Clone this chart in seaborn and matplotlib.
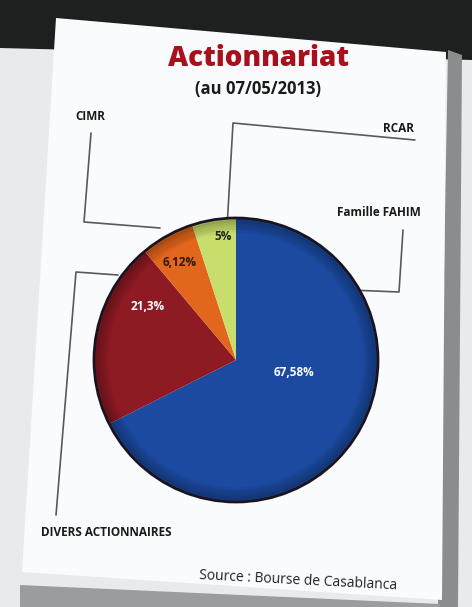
import matplotlib
matplotlib.use("Agg")
import matplotlib.pyplot as plt
from matplotlib.patches import Polygon, Circle
import seaborn as sns

# ---- data ----
holders = ["Famille FAHIM", "DIVERS ACTIONNAIRES", "CIMR", "RCAR"]
shares = [67.58, 21.3, 6.12, 5.0]
share_labels = ["67,58%", "21,3%", "6,12%", "5%"]
title = "Actionnariat"
subtitle = "(au 07/05/2013)"
source = "Source : Bourse de Casablanca"

# ---- style ----
sns.set_theme(style="white")
plt.rcParams['font.family'] = ['Open Sans', 'DejaVu Sans']
colors = ["#1b4aa0", "#8e1a24", "#e2661b", "#c8de6c"]
label_colors = ["white", "white", "#2a1a10", "#222222"]
W, H = 472, 607
cx, cy, R = 236, 360, 142

fig = plt.figure(figsize=(W / 100, H / 100), dpi=100)
fig.patch.set_facecolor("#e9eaec")
ax = fig.add_axes([0, 0, 1, 1])

# background: dark band on top, white tilted panel with shadow
ax.add_patch(Polygon([(0, 0), (W, 0), (W, 60), (0, 48)], closed=True,
                     facecolor="#1e1f1f", edgecolor="none", zorder=0))
ax.add_patch(Polygon([(448, 50), (462, 55), (458, 607), (438, 607)], closed=True,
                     facecolor="#8a8c8e", edgecolor="none", zorder=0.5))
ax.add_patch(Polygon([(20, 585), (440, 604), (440, 607), (20, 607)], closed=True,
                     facecolor="#9a9c9e", edgecolor="none", zorder=0.5))
ax.add_patch(Polygon([(56, 18), (446, 52), (442, 600), (22, 572)], closed=True,
                     facecolor="#fafbfd", edgecolor="none", zorder=1))

# pie (y axis inverted => startangle -90 counterclock gives visual clockwise from top)
wedges, _ = ax.pie(shares, colors=colors, startangle=-90, counterclock=True,
                   center=(cx, cy), radius=R,
                   wedgeprops=dict(edgecolor="none", linewidth=0))
for w in wedges:
    w.set_zorder(3)
# soft darkening towards the rim
for i, a in enumerate([0.05, 0.07, 0.09, 0.12, 0.16]):
    ax.add_patch(Circle((cx, cy), R - 12 + i * 2.5, facecolor="none",
                        edgecolor="black", linewidth=3.5, alpha=a, zorder=3.5))
ax.add_patch(Circle((cx, cy), R, facecolor="none", edgecolor="#1a1420",
                    linewidth=2.0, zorder=4))

# value labels (positions as offsets from the centre)
offsets = [(58, 13), (-88, -53), (-56, -98), (-13, -123)]
for lab, col, (dx, dy) in zip(share_labels, label_colors, offsets):
    ax.text(cx + dx, cy + dy, lab, color=col, fontsize=8.5, fontweight="bold",
            ha="center", va="center", zorder=5)

# leader lines
lc = dict(color="#555a60", linewidth=1.2, zorder=2)
ax.plot([91, 84, 160], [133, 222, 228], **lc)                 # CIMR
ax.plot([415, 233, 227], [140, 123, 228], **lc)                # RCAR
ax.plot([403, 399, 350], [230, 292, 290], **lc)                # Famille FAHIM
ax.plot([56, 76, 118], [515, 272, 275], **lc)                  # Divers

# holder names
nk = dict(fontsize=8.5, fontweight="bold", color="#1a1a1a", zorder=5)
ax.text(75, 116, holders[2], ha="left", va="center", **nk)
ax.text(414, 129, holders[3], ha="right", va="center", **nk)
ax.text(421, 213, holders[0], ha="right", va="center", **nk)
ax.text(41, 532, holders[1], ha="left", va="center", **nk)

# titles
ax.text(258, 59, title, color="#a8101c", fontsize=20, fontweight="heavy",
        ha="center", va="center", zorder=5)
ax.text(258, 89, subtitle, color="#1a1a1a", fontsize=12, fontweight="bold",
        ha="center", va="center", zorder=5)
ax.text(298, 581, source, color="#222222", fontsize=10, ha="center",
        va="center", rotation=-3, zorder=5)

ax.set_xlim(0, W)
ax.set_ylim(H, 0)
ax.set_aspect("auto")
ax.axis("off")

fig.savefig("out.png", dpi=100, facecolor=fig.get_facecolor())
